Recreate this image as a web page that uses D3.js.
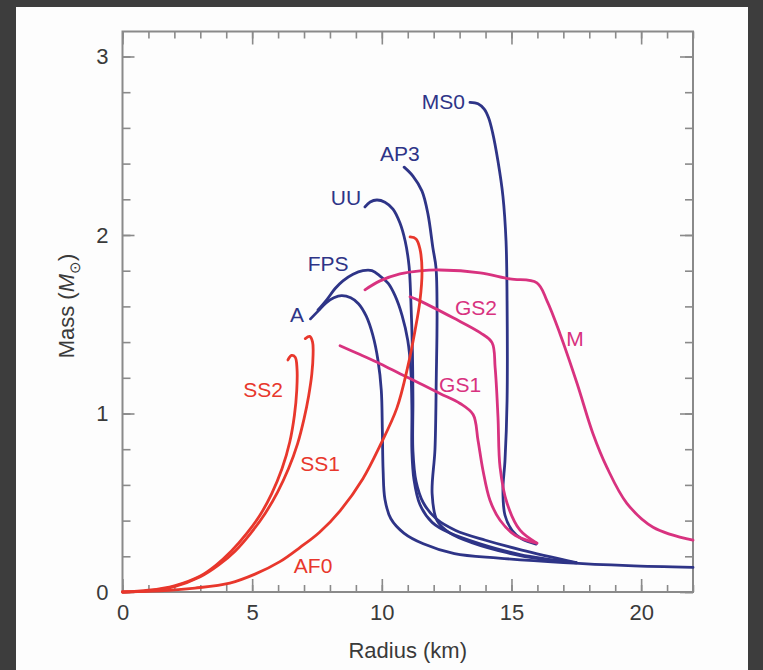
<!DOCTYPE html>
<html>
<head>
<meta charset="utf-8">
<script src="https://cdn.jsdelivr.net/npm/d3@7"></script>
<style>
  html, body { margin: 0; padding: 0; background: #3d3d3d; }
  svg { display: block; }
  text { font-family: "Liberation Sans", Arial, sans-serif; }
</style>
</head>
<body>
<svg id="chart" width="763" height="670"></svg>
<script>
// mass-radius curves, radius in km, mass in solar masses
const aR   = [7.25, 7.55, 7.85, 8.15, 8.45, 8.8, 9.1, 9.4, 9.65, 9.85, 9.98, 10.02, 10.05, 10.12, 10.35, 10.85, 11.6, 12.8, 14.5, 17, 19.5, 22];
const aM   = [1.53, 1.575, 1.62, 1.648, 1.66, 1.648, 1.615, 1.545, 1.44, 1.30, 1.13, 0.91, 0.68, 0.52, 0.41, 0.33, 0.27, 0.215, 0.19, 0.165, 0.148, 0.138];

const fpsR = [7.54, 7.89, 8.2, 8.5, 8.89, 9.27, 9.62, 9.93, 10.24, 10.51, 10.78, 11.0, 11.12, 11.16, 11.16, 11.24, 11.47, 11.94, 12.63, 13.79, 15.33, 17.5];
const fpsM = [1.58, 1.64, 1.70, 1.743, 1.78, 1.80, 1.80, 1.77, 1.73, 1.66, 1.55, 1.41, 1.24, 1.02, 0.79, 0.63, 0.49, 0.39, 0.33, 0.27, 0.21, 0.163];

const uuR  = [9.35, 9.55, 9.81, 10.12, 10.43, 10.70, 10.9, 11.05, 11.12, 11.18, 11.2, 11.2, 11.32, 11.6, 12.1, 12.85, 14.0, 15.4, 17.5];
const uuM  = [2.157, 2.185, 2.196, 2.184, 2.145, 2.067, 1.966, 1.827, 1.63, 1.35, 1.07, 0.79, 0.62, 0.50, 0.41, 0.345, 0.29, 0.235, 0.165];

const ap3R = [10.86, 11.2, 11.55, 11.78, 11.97, 12.09, 12.13, 12.1, 12.05, 11.94, 12.13, 12.63, 13.5, 14.83, 16.1, 17.5];
const ap3M = [2.38, 2.33, 2.246, 2.117, 1.927, 1.816, 1.56, 1.2, 0.80, 0.55, 0.40, 0.33, 0.275, 0.22, 0.185, 0.165];

const ms0R = [13.40, 13.71, 13.95, 14.12, 14.27, 14.48, 14.67, 14.79, 14.83, 14.83, 14.75, 14.67, 14.75, 15.02, 15.41, 15.95];
const ms0M = [2.743, 2.735, 2.705, 2.655, 2.575, 2.413, 2.218, 1.966, 1.631, 1.073, 0.737, 0.57, 0.43, 0.346, 0.296, 0.268];

const ss2R = [0, 1.0, 2.0, 3.0, 3.6, 4.2, 4.8, 5.3, 5.75, 6.15, 6.45, 6.63, 6.72, 6.73, 6.66, 6.52, 6.38];
const ss2M = [0, 0.01, 0.035, 0.09, 0.15, 0.23, 0.33, 0.43, 0.55, 0.69, 0.84, 0.99, 1.13, 1.25, 1.315, 1.325, 1.30];

const ss1R = [0, 1.0, 2.0, 3.0, 3.7, 4.35, 4.95, 5.5, 5.98, 6.4, 6.75, 7.0, 7.18, 7.3, 7.35, 7.33, 7.22, 7.05];
const ss1M = [0, 0.006, 0.03, 0.085, 0.15, 0.23, 0.33, 0.44, 0.56, 0.69, 0.83, 0.97, 1.1, 1.22, 1.33, 1.40, 1.432, 1.42];

const af0R = [0, 1.43, 2.80, 4.14, 5.11, 6.07, 6.85, 7.6, 8.39, 9.27, 9.93, 10.58, 11.01, 11.28, 11.47, 11.55, 11.47, 11.32, 11.09];
const af0M = [0, 0.006, 0.022, 0.05, 0.10, 0.17, 0.25, 0.335, 0.455, 0.635, 0.82, 1.03, 1.268, 1.464, 1.631, 1.799, 1.922, 1.978, 1.989];

const mR   = [9.35, 9.93, 10.70, 11.47, 12.24, 13.79, 14.94, 15.98, 16.37, 16.87, 17.53, 18.14, 18.68, 19.45, 20.46, 22.0];
const mM   = [1.693, 1.743, 1.782, 1.799, 1.804, 1.788, 1.754, 1.732, 1.631, 1.447, 1.168, 0.888, 0.698, 0.497, 0.363, 0.29];

const gs2R = [11.09, 11.47, 12.75, 13.79, 14.25, 14.37, 14.48, 14.56, 14.83, 15.33, 15.98];
const gs2M = [1.654, 1.631, 1.536, 1.453, 1.397, 1.257, 0.978, 0.698, 0.497, 0.346, 0.274];

const gs1R = [8.39, 9.16, 9.93, 10.70, 11.47, 12.24, 13.02, 13.52, 13.71, 13.90, 14.17, 14.56, 15.14, 15.98];
const gs1M = [1.38, 1.33, 1.279, 1.223, 1.168, 1.112, 1.056, 0.994, 0.849, 0.682, 0.514, 0.402, 0.318, 0.274];

// curve names with label spots (radius, mass)
const names  = ["A", "FPS", "UU", "AP3", "MS0", "SS2", "SS1", "AF0", "M", "GS2", "GS1"];
const labelR = [6.73, 7.93, 8.62, 10.70, 13.21, 5.42, 7.62, 7.35, 17.45, 13.63, 13.02];
const labelM = [1.51, 1.80, 2.168, 2.413, 2.704, 1.095, 0.676, 0.106, 1.38, 1.553, 1.123];

const xMajor = [0, 5, 10, 15, 20];
const yMajor = [0, 1, 2, 3];

const BLUE = "#2e3487", RED = "#e8372c", MAGENTA = "#d8327f";

const curves = [
    { name: "A",   r: aR,   m: aM,   color: BLUE },
    { name: "FPS", r: fpsR, m: fpsM, color: BLUE },
    { name: "UU",  r: uuR,  m: uuM,  color: BLUE },
    { name: "AP3", r: ap3R, m: ap3M, color: BLUE },
    { name: "MS0", r: ms0R, m: ms0M, color: BLUE },
    { name: "M",   r: mR,   m: mM,   color: MAGENTA },
    { name: "GS2", r: gs2R, m: gs2M, color: MAGENTA },
    { name: "GS1", r: gs1R, m: gs1M, color: MAGENTA },
    { name: "SS2", r: ss2R, m: ss2M, color: RED },
    { name: "SS1", r: ss1R, m: ss1M, color: RED },
    { name: "AF0", r: af0R, m: af0M, color: RED }
];
const colorOf = {};
curves.forEach(c => colorOf[c.name] = c.color);

const svg = d3.select("#chart");

// white sheet on dark surround
svg.append("rect")
    .attr("x", 16).attr("y", 7)
    .attr("width", 732).attr("height", 663)
    .attr("fill", "#fdfdfd");

const plotLeft = 122.5, plotRight = 693, plotTop = 31.5, plotBottom = 592;

const x = d3.scaleLinear().domain([0, 22]).range([plotLeft, plotRight]);
const y = d3.scaleLinear().domain([0, 3.14]).range([plotBottom, plotTop]);

const frameColor = "#8a8a8a";

function styleAxis(g) {
    g.select(".domain").remove();
    g.selectAll("line").attr("stroke", frameColor).attr("stroke-width", 1.6);
    g.selectAll("text")
        .style("font-size", "22px")
        .attr("fill", "#3a3a3a");
}

// minor ticks, all four sides
svg.append("g").attr("transform", `translate(0,${plotBottom})`)
    .call(d3.axisBottom(x).tickValues(d3.range(0, 23)).tickSize(-7).tickFormat(""))
    .call(styleAxis);
svg.append("g").attr("transform", `translate(0,${plotTop})`)
    .call(d3.axisTop(x).tickValues(d3.range(0, 23)).tickSize(-7).tickFormat(""))
    .call(styleAxis);
svg.append("g").attr("transform", `translate(${plotLeft},0)`)
    .call(d3.axisLeft(y).tickValues(d3.range(0, 3.1, 0.2)).tickSize(-8).tickFormat(""))
    .call(styleAxis);
svg.append("g").attr("transform", `translate(${plotRight},0)`)
    .call(d3.axisRight(y).tickValues(d3.range(0, 3.1, 0.2)).tickSize(-8).tickFormat(""))
    .call(styleAxis);

// major ticks with labels
svg.append("g").attr("transform", `translate(0,${plotBottom})`)
    .call(d3.axisBottom(x).tickValues(xMajor).tickSize(-13).tickPadding(12))
    .call(styleAxis);
svg.append("g").attr("transform", `translate(0,${plotTop})`)
    .call(d3.axisTop(x).tickValues(xMajor).tickSize(-13).tickFormat(""))
    .call(styleAxis);
svg.append("g").attr("transform", `translate(${plotLeft},0)`)
    .call(d3.axisLeft(y).tickValues(yMajor).tickSize(-12).tickPadding(14).tickFormat(d3.format("d")))
    .call(styleAxis);
svg.append("g").attr("transform", `translate(${plotRight},0)`)
    .call(d3.axisRight(y).tickValues(yMajor).tickSize(-13).tickFormat(""))
    .call(styleAxis);

// frame
svg.append("rect")
    .attr("x", plotLeft).attr("y", plotTop)
    .attr("width", plotRight - plotLeft).attr("height", plotBottom - plotTop)
    .attr("fill", "none")
    .attr("stroke", frameColor)
    .attr("stroke-width", 2);

// curves
const line = d3.line()
    .x(d => x(d[0]))
    .y(d => y(d[1]))
    .curve(d3.curveCatmullRom.alpha(0.5));

svg.append("g").selectAll("path")
    .data(curves)
    .enter().append("path")
    .attr("d", c => line(c.r.map((r, i) => [r, c.m[i]])))
    .attr("fill", "none")
    .attr("stroke", c => c.color)
    .attr("stroke-width", 2.8)
    .attr("stroke-linejoin", "round")
    .attr("stroke-linecap", "round");

// curve labels
svg.append("g").selectAll("text")
    .data(names)
    .enter().append("text")
    .attr("x", (d, i) => x(labelR[i]))
    .attr("y", (d, i) => y(labelM[i]))
    .attr("text-anchor", d => d === "MS0" ? "end" : "middle")
    .style("font-size", "21px")
    .attr("fill", d => colorOf[d])
    .text(d => d);

// axis titles
svg.append("text")
    .attr("x", (plotLeft + plotRight) / 2)
    .attr("y", 658)
    .attr("text-anchor", "middle")
    .style("font-size", "22px")
    .attr("fill", "#3a3a3a")
    .text("Radius (km)");

const yTitle = svg.append("text")
    .attr("transform", `translate(74,306) rotate(-90)`)
    .attr("text-anchor", "middle")
    .style("font-size", "22px")
    .attr("fill", "#3a3a3a");
yTitle.append("tspan").text("Mass (");
yTitle.append("tspan").style("font-style", "italic").text("M");
yTitle.append("tspan").attr("dy", 6).style("font-size", "15px").text("⊙");
yTitle.append("tspan").attr("dy", -6).text(")");
</script>
</body>
</html>
